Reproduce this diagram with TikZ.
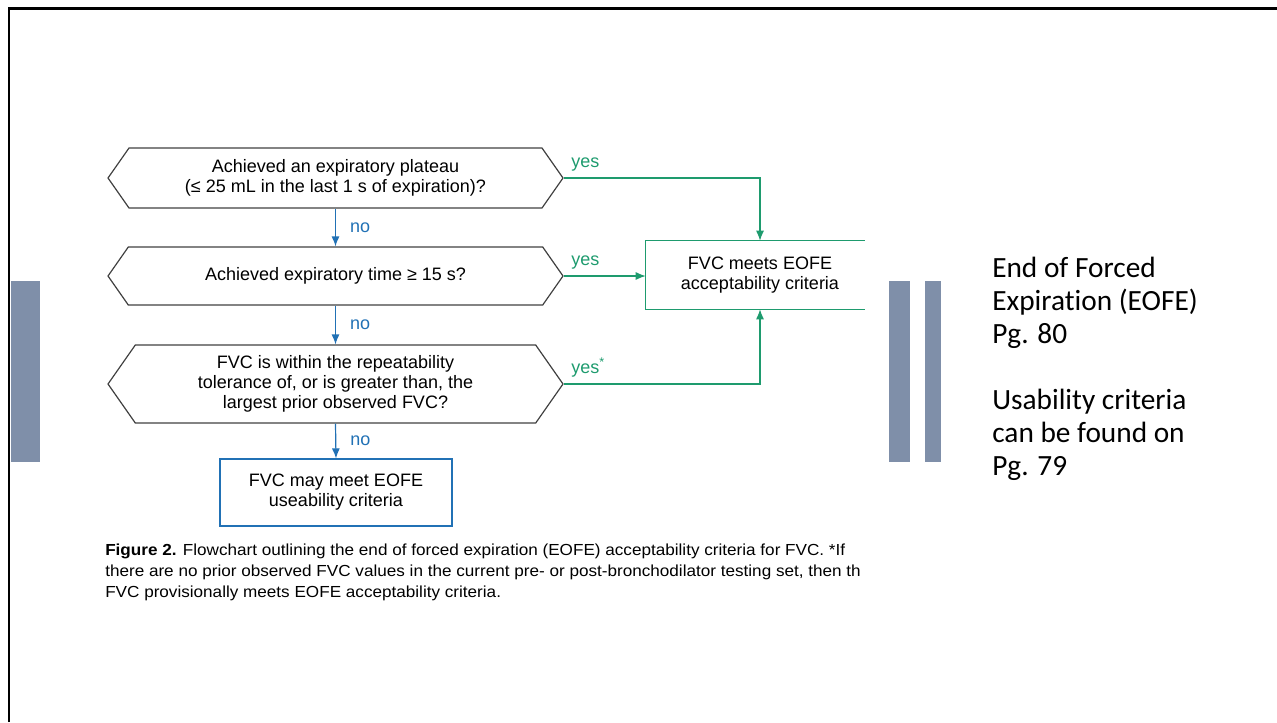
\documentclass[tikz,border=0pt]{standalone}
\usepackage{fontspec}
\setmainfont{Liberation Sans}
\newfontfamily\notefont[Ligatures=NoCommon]{Carlito}
\newfontfamily\capfont[FakeStretch=1.07]{Liberation Sans}
\usepackage{tikz}
\usetikzlibrary{arrows.meta,positioning,calc,shapes.symbols}
\usepackage{xcolor}
\definecolor{nogo}{RGB}{33,113,181}
\definecolor{okgo}{RGB}{30,155,110}
\definecolor{barcol}{RGB}{127,143,169}

\begin{document}
\begin{tikzpicture}[x=0.75pt, y=-0.75pt,
    font=\fontsize{13.5}{15}\selectfont,
    hx/.style={draw=black!75, line width=0.9pt, signal, signal to=east and west, signal pointer angle=110, minimum width=341.25pt, inner sep=0pt, align=center},
    bx/.style={draw=nogo, line width=0.9pt, minimum width=174pt, minimum height=50.25pt, inner sep=0pt, align=center},
    noarr/.style={-{Latex[length=7.5pt,width=6pt]}, draw=nogo, line width=0.9pt},
    yesarr/.style={-{Latex[length=7.5pt,width=6pt]}, draw=okgo, line width=0.9pt},
    nolab/.style={text=nogo, inner sep=0pt, right=10.5pt},
    yeslab/.style={text=okgo, inner sep=0pt, anchor=base west, xshift=5.25pt, yshift=8.25pt},
    bar/.style={fill=barcol, draw=none}
  ]
  \useasboundingbox (0,0) rectangle (1277,722);
  \draw[line width=2pt] (9,722) -- (9,8.5) -- (1277,8.5);
  \fill[bar] (11,281) rectangle (40,462);
  \fill[bar] (889,281) rectangle (910,462);
  \fill[bar] (925,281) rectangle (941,462);

  \node[hx, minimum height=45pt] (plat) at (335.5,178) {Achieved an expiratory plateau\\(≤ 25 mL in the last 1 s of expiration)?};
  \node[hx, minimum height=43.5pt] (time) at (335.5,276) {Achieved expiratory time ≥ 15 s?};
  \node[hx, minimum height=58.5pt] (rep) at (335.5,384) {FVC is within the repeatability\\tolerance of, or is greater than, the\\largest prior observed FVC?};
  \node[bx] (may) at (336,492.5) {FVC may meet EOFE\\useability criteria};
  \node[minimum width=171pt, minimum height=51pt, inner sep=0pt, align=center] (ok) at (760,275) {FVC meets EOFE\\acceptability criteria};
  \draw[okgo, line width=0.9pt] ([xshift=164.25pt]ok.north west) -- (ok.north west) -- (ok.south west) -- ([xshift=164.25pt]ok.south west);

  \draw[noarr] (plat.south) -- node[nolab]{no} (time.north);
  \draw[noarr] (time.south) -- node[nolab]{no} (rep.north);
  \draw[noarr] (rep.south) -- node[nolab]{no} (may.north);
  \draw[yesarr] (plat.east) -| node[yeslab, pos=0]{yes} (ok.north);
  \draw[yesarr] (time.east) -- node[yeslab, pos=0]{yes} (time.east -| ok.west);
  \draw[yesarr] (rep.east) -| node[yeslab, pos=0]{yes\textsuperscript{*}} (ok.south);

  \node[anchor=base west, align=left, inner sep=0pt, font=\capfont\fontsize{12}{15.75}\selectfont] (cap) at (105,597) {\textbf{Figure 2.} Flowchart outlining the end of forced expiration (EOFE) acceptability criteria for FVC. *If\\there are no prior observed FVC values in the current pre- or post-bronchodilator testing set, then th\\FVC provisionally meets EOFE acceptability criteria.};
  \node[anchor=base west, align=left, inner sep=0pt, font=\notefont\fontsize{22}{24.75}\selectfont] (note) at (992,475) {End of Forced\\Expiration (EOFE)\\Pg. 80\\[24.75pt]Usability criteria\\can be found on\\Pg. 79};
\end{tikzpicture}
\end{document}
